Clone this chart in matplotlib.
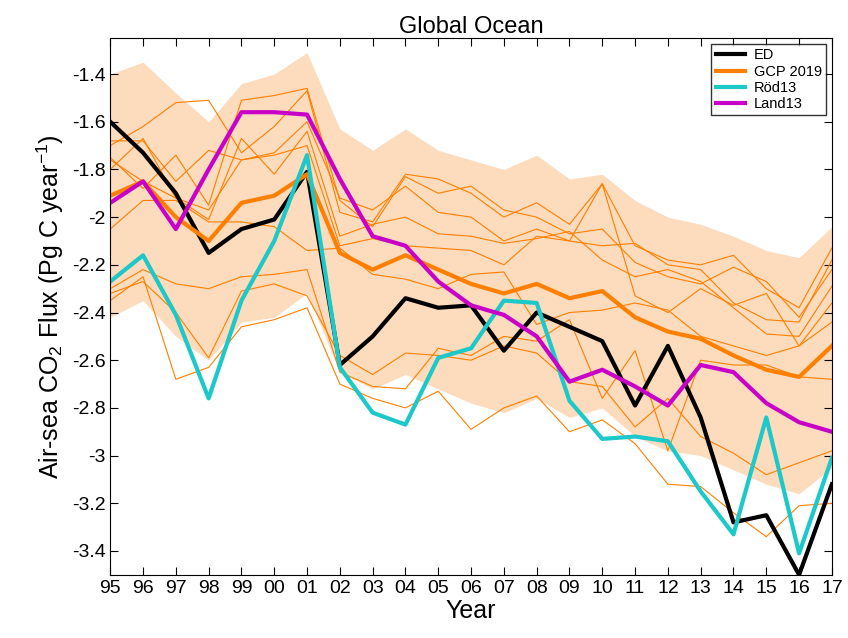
import matplotlib.pyplot as plt
from matplotlib.ticker import FuncFormatter

plt.rcParams["font.family"] = ["Liberation Sans", "DejaVu Sans"]
plt.rcParams["mathtext.fontset"] = "custom"
plt.rcParams["mathtext.rm"] = "Liberation Sans"
plt.rcParams["mathtext.it"] = "Liberation Sans"

years = list(range(1995, 2018))
year_labels = ["%02d" % (y % 100) for y in years]

ed = [-1.60, -1.73, -1.90, -2.15, -2.05, -2.01, -1.81, -2.62, -2.50, -2.34, -2.38, -2.37,
      -2.56, -2.40, -2.46, -2.52, -2.79, -2.54, -2.84, -3.28, -3.25, -3.50, -3.12]
gcp = [-1.91, -1.85, -2.00, -2.10, -1.94, -1.91, -1.82, -2.15, -2.22, -2.16, -2.22, -2.28,
       -2.32, -2.28, -2.34, -2.31, -2.42, -2.48, -2.51, -2.58, -2.64, -2.67, -2.54]
rod13 = [-2.27, -2.16, -2.41, -2.76, -2.35, -2.10, -1.74, -2.63, -2.82, -2.87, -2.59, -2.55,
         -2.35, -2.36, -2.77, -2.93, -2.92, -2.94, -3.15, -3.33, -2.84, -3.41, -3.01]
land13 = [-1.94, -1.85, -2.05, -1.80, -1.56, -1.56, -1.57, -1.84, -2.08, -2.12, -2.27, -2.37,
          -2.41, -2.50, -2.69, -2.64, -2.71, -2.79, -2.62, -2.65, -2.78, -2.86, -2.90]
env_hi = [-1.40, -1.35, -1.48, -1.60, -1.44, -1.40, -1.31, -1.63, -1.72, -1.63, -1.72, -1.76,
          -1.80, -1.74, -1.84, -1.82, -1.93, -2.00, -2.03, -2.08, -2.14, -2.17, -2.04]
env_lo = [-2.42, -2.35, -2.50, -2.60, -2.44, -2.42, -2.32, -2.65, -2.72, -2.66, -2.72, -2.78,
          -2.82, -2.76, -2.84, -2.80, -2.92, -2.98, -3.00, -3.06, -3.12, -3.16, -3.05]

models = [
    [-1.70, -1.62, -1.52, -1.51, -1.73, -1.62, -1.47, -1.98, -2.02, -1.82, -1.84, -1.90, -2.00, -1.94, -2.03, -1.86, -2.12, -2.18, -2.20, -2.16, -2.30, -2.38, -2.13],
    [-1.75, -1.88, -1.74, -1.95, -1.51, -1.49, -1.46, -1.93, -2.04, -1.83, -1.90, -1.87, -1.97, -2.00, -2.07, -2.05, -2.19, -2.25, -2.28, -2.21, -2.27, -2.42, -2.22],
    [-1.68, -1.68, -1.85, -1.72, -1.76, -1.73, -1.60, -1.92, -1.97, -1.87, -1.98, -2.00, -2.10, -2.05, -2.10, -2.12, -2.11, -2.20, -2.22, -2.36, -2.43, -2.44, -2.18],
    [-1.80, -1.67, -1.92, -2.01, -1.67, -1.82, -1.64, -2.08, -2.03, -2.00, -2.07, -2.08, -2.11, -2.09, -2.06, -2.18, -2.25, -2.22, -2.27, -2.38, -2.49, -2.50, -2.29],
    [-1.76, -1.85, -1.92, -1.97, -1.76, -1.74, -1.70, -2.12, -2.09, -2.12, -2.13, -2.14, -2.20, -2.08, -2.10, -1.86, -2.33, -2.40, -2.30, -2.37, -2.32, -2.54, -2.36],
    [-2.05, -1.93, -1.93, -2.02, -2.02, -2.04, -2.14, -2.13, -2.24, -2.26, -2.30, -2.24, -2.23, -2.45, -2.40, -2.39, -2.36, -2.39, -2.50, -2.54, -2.58, -2.54, -2.44],
    [-2.30, -2.22, -2.28, -2.30, -2.25, -2.24, -2.22, -2.65, -2.71, -2.72, -2.55, -2.58, -2.50, -2.52, -2.43, -2.76, -2.56, -2.98, -2.60, -2.62, -2.62, -2.67, -2.68],
    [-2.32, -2.27, -2.40, -2.59, -2.31, -2.28, -2.33, -2.58, -2.66, -2.57, -2.58, -2.60, -2.54, -2.57, -2.69, -2.71, -2.88, -2.76, -2.92, -2.99, -3.08, -3.03, -2.98],
    [-2.35, -2.25, -2.68, -2.63, -2.46, -2.43, -2.38, -2.70, -2.76, -2.80, -2.73, -2.89, -2.80, -2.75, -2.90, -2.85, -2.95, -3.12, -3.13, -3.24, -3.34, -3.21, -3.20],
]

ORANGE = "#FF7F00"

fig = plt.figure(figsize=(8.48, 6.38), dpi=100)
ax = fig.add_axes([0.130, 0.099, 0.851, 0.841])

ax.fill_between(years, env_lo, env_hi, color="#FDDBBD", lw=0)
for m in models:
    ax.plot(years, m, color=ORANGE, lw=0.8)
ax.plot(years, ed, color="black", lw=3, label="ED")
ax.plot(years, gcp, color=ORANGE, lw=3, label="GCP 2019")
ax.plot(years, rod13, color="#1CC8C8", lw=3, label="Röd13")
ax.plot(years, land13, color="#C800C8", lw=3, label="Land13")

ax.set_xlim(1995, 2017)
ax.set_ylim(-3.5, -1.25)
ax.set_xticks(years)
ax.set_xticklabels(year_labels)
ax.set_yticks([-3.4, -3.2, -3.0, -2.8, -2.6, -2.4, -2.2, -2.0, -1.8, -1.6, -1.4])
ax.yaxis.set_major_formatter(FuncFormatter(lambda v, p: "%g" % round(v, 1)))
ax.tick_params(direction="in", top=True, right=True, labelsize=14, length=6)
for s in ax.spines.values():
    s.set_linewidth(0.8)

ax.set_title("Global Ocean", fontsize=17, pad=4)
ax.set_xlabel("Year", fontsize=18, labelpad=2)
ax.set_ylabel("Air-sea CO$_2$ Flux (Pg C year$^{-1}$)", fontsize=18)

leg = ax.legend(loc="upper right", fontsize=10.5, frameon=True, fancybox=False,
                edgecolor="black", borderaxespad=0.4, handlelength=2.0,
                labelspacing=0.15, borderpad=0.3, handletextpad=0.6)
leg.get_frame().set_linewidth(1.0)

fig.savefig("out.png", dpi=100)
